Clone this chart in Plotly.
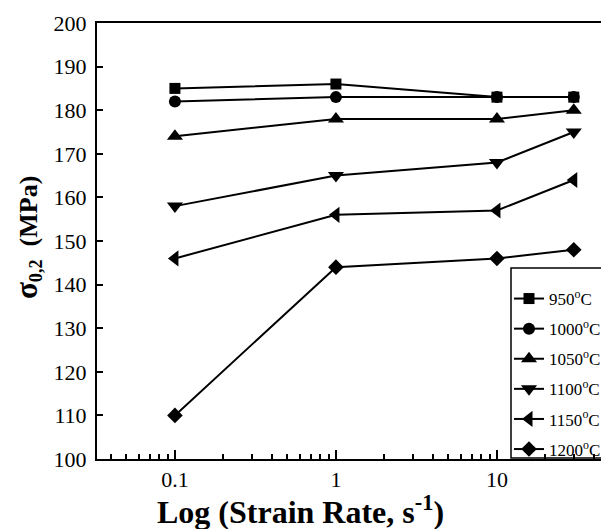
import plotly.graph_objects as go

strain_rate = [0.1, 1, 10, 30]
series_names = ["950<sup>o</sup>C", "1000<sup>o</sup>C", "1050<sup>o</sup>C",
                "1100<sup>o</sup>C", "1150<sup>o</sup>C", "1200<sup>o</sup>C"]
s950 = [185, 186, 183, 183]
s1000 = [182, 183, 183, 183]
s1050 = [174, 178, 178, 180]
s1100 = [158, 165, 168, 175]
s1150 = [146, 156, 157, 164]
s1200 = [110, 144, 146, 148]
series_values = [s950, s1000, s1050, s1100, s1150, s1200]
symbols = ["square", "circle", "triangle-up", "triangle-down", "triangle-left", "diamond"]
marker_sizes = [11, 12, 14, 14, 14, 12]
x_tick_vals = [0.1, 1, 10]
x_tick_text = ["0.1", "1", "10"]
x_minor_vals = [0.04, 0.05, 0.06, 0.07, 0.08, 0.09,
                0.2, 0.3, 0.4, 0.5, 0.6, 0.7, 0.8, 0.9,
                2, 3, 4, 5, 6, 7, 8, 9, 20, 30, 40]

FONT = "Liberation Serif, Times New Roman, serif"
X_RANGE = [-1.484, 1.696]

# page has an 8px body margin; figure is offset accordingly
W, H = 601, 521
L, R, T, B = 89, 0, 15, 70
PW, PH = W - L - R, H - T - B


def px(xp):  # page x -> paper x
    return (xp - 8 - L) / PW


def py(yp):  # page y -> paper y
    return (H - B - (yp - 8)) / PH


fig = go.Figure()
for i, (name, vals, sym, ms) in enumerate(zip(series_names, series_values, symbols, marker_sizes)):
    fig.add_trace(go.Scatter(
        x=strain_rate, y=vals, name=name, mode="lines+markers",
        line=dict(color="black", width=2),
        marker=dict(symbol=sym, size=ms, color="black"),
        legendgroup=f"g{i}",
    ))

fig.update_layout(
    width=W, height=H,
    margin=dict(l=L, r=R, t=T, b=B),
    paper_bgcolor="white", plot_bgcolor="white",
    font=dict(family=FONT, color="black"),
    showlegend=True,
    legend=dict(
        x=px(509), y=py(281), xanchor="left", yanchor="top",
        bgcolor="rgba(0,0,0,0)", borderwidth=0,
        font=dict(size=17, family=FONT), tracegroupgap=5,
        itemwidth=30,
    ),
    xaxis=dict(
        type="log", range=X_RANGE,
        tickmode="array", tickvals=x_tick_vals, ticktext=x_tick_text,
        ticks="inside", ticklen=9, tickwidth=2, tickcolor="black",
        minor=dict(tickmode="array", tickvals=x_minor_vals, ticks="inside",
                   ticklen=5, tickwidth=1.5, tickcolor="black", showgrid=False),
        showline=True, linecolor="black", linewidth=2, mirror=True,
        showgrid=False, zeroline=False,
        tickfont=dict(size=22, family=FONT),
    ),
    yaxis=dict(
        range=[100, 200], dtick=10,
        ticks="inside", ticklen=6, tickwidth=2, tickcolor="black",
        showline=True, linecolor="black", linewidth=2, mirror=False,
        showgrid=False, zeroline=False,
        tickfont=dict(size=22, family=FONT), ticklabelstandoff=4,
    ),
    shapes=[
        dict(type="rect", xref="paper", yref="paper",
             x0=px(511), x1=px(640), y0=py(458), y1=py(268),
             line=dict(color="black", width=1.5), fillcolor="white", layer="below"),
    ],
    annotations=[
        dict(text="<b>Log (Strain Rate, s<sup>-1</sup>)</b>",
             xref="paper", yref="paper", x=px(300), y=py(510),
             xanchor="center", yanchor="middle", showarrow=False,
             font=dict(size=32, family=FONT)),
        dict(text="<b><span style='font-size:31px'>σ</span><sub>0,2</sub>  (MPa)</b>",
             xref="paper", yref="paper", x=px(27), y=py(238),
             xanchor="center", yanchor="middle", showarrow=False, textangle=-90,
             font=dict(size=26, family=FONT)),
    ],
)

fig.write_html("out.html")
